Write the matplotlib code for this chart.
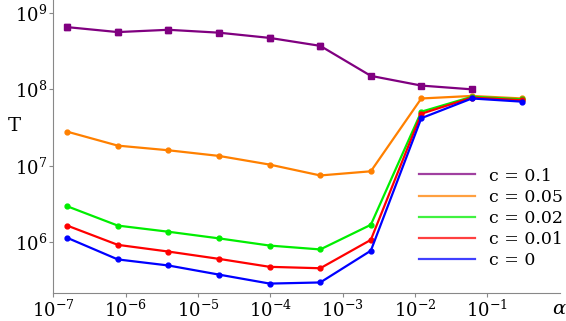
import numpy as np
import matplotlib
matplotlib.use("Agg")
import matplotlib.pyplot as plt
from matplotlib.lines import Line2D

# alpha values on the x axis
alpha = [1.56e-7, 7.8e-7, 3.9e-6, 1.95e-5, 9.8e-5, 4.9e-4, 2.45e-3, 1.22e-2, 6.1e-2, 0.305]

# T for each c
T_c01 = [6.5e8, 5.6e8, 6.0e8, 5.5e8, 4.7e8, 3.7e8, 1.5e8, 1.12e8, 1.0e8]
T_c01_err = [0.6e8, 0.5e8, 0.5e8, 0.4e8, 0.4e8, 0.3e8, 0.1e8, 0.05e8, 0.05e8]
T_c005 = [2.8e7, 1.84e7, 1.6e7, 1.35e7, 1.04e7, 7.5e6, 8.5e6, 7.6e7, 8.2e7, 7.6e7]
T_c002 = [2.97e6, 1.66e6, 1.38e6, 1.13e6, 9.1e5, 8.1e5, 1.7e6, 5.1e7, 8.0e7, 7.4e7]
T_c001 = [1.66e6, 9.3e5, 7.6e5, 6.1e5, 4.8e5, 4.6e5, 1.08e6, 4.8e7, 7.8e7, 7.2e7]
T_c0 = [1.15e6, 6.0e5, 5.0e5, 3.8e5, 2.9e5, 3.0e5, 7.8e5, 4.2e7, 7.6e7, 6.9e7]

labels = ["c = 0.1", "c = 0.05", "c = 0.02", "c = 0.01", "c = 0"]
colors = ["#800080", "#ff8000", "#00ee00", "#ff0000", "#0000ff"]

plt.rcParams['font.family'] = ['DejaVu Serif']
plt.rcParams['mathtext.fontset'] = 'dejavuserif'

fig = plt.figure(figsize=(5.66, 3.21), dpi=100)
ax = fig.add_axes([0.094, 0.087, 0.895, 0.913])

ax.errorbar(alpha[:len(T_c01)], T_c01, yerr=T_c01_err, color=colors[0], lw=1.6,
            marker='s', ms=4, capsize=2, elinewidth=1.2)
for T, c in zip([T_c005, T_c002, T_c001, T_c0], colors[1:]):
    ax.plot(alpha, T, color=c, lw=1.6, marker='o', ms=3.5)

ax.set_xscale('log')
ax.set_yscale('log')
ax.set_xlim(1e-7, 1.0)
ax.set_ylim(2.18e5, 1.47e9)
ax.set_xticks([1e-7, 1e-6, 1e-5, 1e-4, 1e-3, 1e-2, 1e-1])
ax.set_yticks([1e6, 1e7, 1e8, 1e9])
ax.minorticks_off()

for s in ['top', 'right']:
    ax.spines[s].set_visible(False)
for s in ['left', 'bottom']:
    ax.spines[s].set_color('#888888')
ax.tick_params(axis='both', length=3, color='#888888', labelsize=13, pad=1.5)

ax.text(-0.077, 0.57, 'T', transform=ax.transAxes, fontsize=14, ha='center', va='center')
ax.text(1.0, -0.055, r'$\alpha$', transform=ax.transAxes, fontsize=14, ha='center', va='center')

handles = [Line2D([], [], color=c, lw=1.6, alpha=0.75) for c in colors]
ax.legend(handles, labels, loc='center right', bbox_to_anchor=(1.037, 0.255), frameon=False,
          fontsize=12.5, handlelength=3.2, labelspacing=0.24, handletextpad=0.8)

fig.savefig('out.png', dpi=100)
